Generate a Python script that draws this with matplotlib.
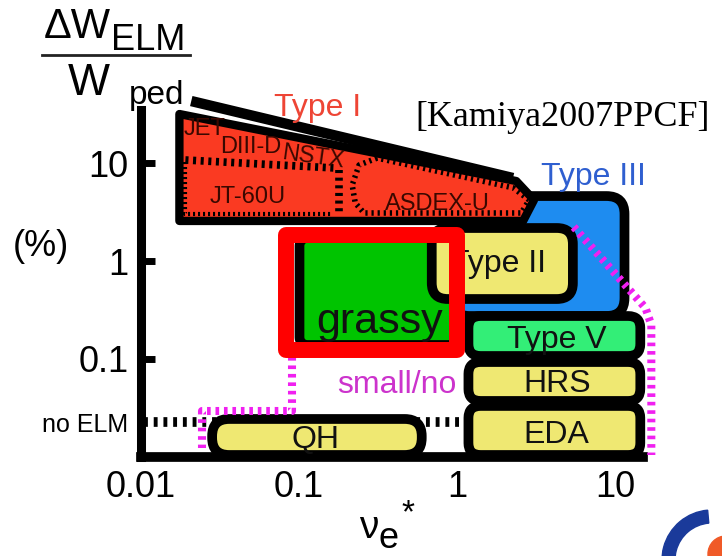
import matplotlib
matplotlib.use('Agg')
import matplotlib.pyplot as plt
from matplotlib.patches import FancyBboxPatch, Rectangle, Polygon, Wedge, Circle
import numpy as np

plt.rcParams['font.family'] = ['Liberation Sans', 'DejaVu Sans']

# ELM regimes in (nu_e*, dW_ELM/W_ped [%]) space
# Type I envelope and its upper edge
type1_nu = [0.0175, 2.37, 3.07, 2.62, 0.0175]
type1_dw = [31.9, 6.58, 4.21, 2.57, 2.57]
type1_top_nu = [0.0208, 2.26]
type1_top_dw = [43.3, 7.06]

# machine sub-regions inside Type I (dotted)
jet_nu = [0.0191, 0.170]
jet_dw = [10.8, 8.94]
nstx_nu = [0.180, 0.180]
nstx_dw = [8.53, 3.10]
jt60_nu = [0.0191, 0.0191, 0.1625]
jt60_dw = [10.2, 3.03, 3.03]
asdex_nu = [0.312, 0.240, 0.217, 0.227, 0.258, 2.55, 2.86, 2.27, 0.312]
asdex_dw = [11.3, 9.6, 5.99, 3.92, 3.10, 3.10, 4.21, 5.6, 11.3]

machines = ['JET', 'DIII-D', 'NSTX', 'JT-60U', 'ASDEX-U']
machine_nu = [0.0251, 0.0492, 0.1233, 0.0474, 0.753]
machine_dw = [19.45, 12.73, 8.94, 3.92, 3.32]

# rectangular regimes
box_names = ['Type III', 'Type II', 'grassy', 'Type V', 'HRS', 'EDA', 'QH']
box_nu_lo = [0.923, 0.692, 0.1007, 1.181, 1.181, 1.181, 0.0282]
box_nu_hi = [11.48, 5.41, 0.993, 14.45, 14.45, 14.45, 0.598]
box_dw_lo = [0.2737, 0.4086, 0.1383, 0.1067, 0.037, 0.01036, 0.01036]
box_dw_hi = [4.62, 2.176, 1.72, 0.2737, 0.0926, 0.0329, 0.0242]

# highlighted grassy window
frame_nu = [0.0828, 1.0]
frame_dw = [0.1229, 1.824]

# "no ELM" level and small/no ELM boundaries
no_elm_dw = 0.0225
no_elm_nu = [0.0105, 1.115]
small_left_nu = [0.0897, 0.0897, 0.0244, 0.0244]
small_left_dw = [0.1042, 0.0292, 0.0292, 0.0122]
small_right_nu = [5.48, 15.6, 16.97, 16.97]
small_right_dw = [2.23, 0.330, 0.2215, 0.01036]

labels = ['Type I', 'Type III', 'Type II', 'grassy', 'Type V', 'HRS', 'EDA', 'QH', 'small/no']
label_nu = [0.1307, 7.32, 1.824, 0.3255, 4.26, 4.31, 4.26, 0.128, 0.417]
label_dw = [30.4, 5.99, 0.772, 0.1834, 0.1288, 0.0457, 0.01374, 0.01222, 0.0447]

x_ticks = [0.01, 0.1, 1, 10]
x_ticklabels = ['0.01', '0.1', '1', '10']
y_ticks = [no_elm_dw, 0.1, 1, 10]
y_ticklabels = ['no ELM', '0.1', '1', '10']

L = np.log10
W, H = 722, 556
PX_X, PX_Y = 158.0, 97.75      # pixels per decade
ASPECT = PX_X / PX_Y

fig = plt.figure(figsize=(W / 100, H / 100), dpi=100)
ax = fig.add_axes([141 / W, 1 - 456.5 / H, 502 / W, 346.5 / H])
ax.set_xlim(-2, 1.177)
ax.set_ylim(-2, 1.545)

for s in ['top', 'right']:
    ax.spines[s].set_visible(False)
ax.spines['left'].set_linewidth(6.5)
ax.spines['bottom'].set_linewidth(7)
for s in ['left', 'bottom']:
    ax.spines[s].set_capstyle('projecting')
    ax.spines[s].set_zorder(1)

ax.set_xticks(L(x_ticks))
ax.set_xticklabels(x_ticklabels)
ax.set_yticks(L(y_ticks))
ax.set_yticklabels(y_ticklabels)
ax.tick_params(axis='x', length=0, pad=10, labelsize=26)
ax.tick_params(axis='y', direction='in', length=10, width=5, pad=9, labelsize=26)
ax.yaxis.get_major_ticks()[0].tick1line.set_visible(False)
ax.get_yticklabels()[0].set_fontsize(18)

def rbox(i, fc, r_px, z, lw=7):
    x0, x1 = L(box_nu_lo[i]), L(box_nu_hi[i])
    y0, y1 = L(box_dw_lo[i]), L(box_dw_hi[i])
    p = FancyBboxPatch((x0, y0), x1 - x0, y1 - y0,
                       boxstyle='round,pad=0,rounding_size=%f' % (r_px / PX_X),
                       mutation_aspect=ASPECT, fc=fc, ec='black', lw=lw,
                       joinstyle='round', clip_on=False, zorder=z)
    ax.add_patch(p)

# Type III sits underneath everything else
rbox(0, '#1E8CF0', 18, 2)

# Type I envelope
ax.add_patch(Polygon(np.column_stack([L(type1_nu), L(type1_dw)]), closed=True,
                     fc='#FA3A22', ec='black', lw=6, joinstyle='round',
                     clip_on=False, zorder=3))
ax.plot(L(type1_top_nu), L(type1_top_dw), color='black', lw=7.5,
        solid_capstyle='butt', clip_on=False, zorder=3.1)

dot = dict(color='black', clip_on=False, zorder=3.2, solid_capstyle='butt')
ax.plot(L(jet_nu), L(jet_dw), lw=5.5, dashes=(0.4, 0.6), **dot)
ax.plot(L(nstx_nu), L(nstx_dw), lw=5.5, dashes=(0.4, 0.6), **dot)
ax.plot(L(jt60_nu), L(jt60_dw), lw=3, dashes=(0.5, 0.7), **dot)
ax.plot(L(asdex_nu), L(asdex_dw), lw=4, dashes=(0.4, 0.7), **dot)

for name, nu, dw in zip(machines, machine_nu, machine_dw):
    ax.text(L(nu), L(dw), name, fontsize=17, color='#3A0800', ha='center',
            va='baseline', rotation=-8 if name == 'NSTX' else 0, zorder=3.3)

# grassy, Type II and the right-hand stack
rbox(2, '#00C400', 8, 4)
rbox(1, '#EFE872', 16, 5)
ax.plot(L(no_elm_nu), [L(no_elm_dw)] * 2, color='black', lw=7,
        dashes=(0.4, 0.6), clip_on=False, zorder=5.5)
rbox(3, '#33EE77', 12, 6)
rbox(4, '#EFE872', 12, 6)
rbox(5, '#EFE872', 12, 6)
rbox(6, '#EFE872', 17, 6)

mag = dict(color='#F020F0', lw=5.8, dashes=(0.45, 0.6), clip_on=False, zorder=7)
ax.plot(L(small_left_nu), L(small_left_dw), **mag)
ax.plot(L(small_right_nu), L(small_right_dw), **mag)

label_color = {'Type I': '#EE4535', 'Type III': '#2F5FD0', 'small/no': '#CC33CC'}
for name, nu, dw in zip(labels, label_nu, label_dw):
    ax.text(L(nu), L(dw), name, fontsize=31 if name == 'grassy' else 23,
            color=label_color.get(name, '#111111'), ha='center', va='baseline',
            zorder=8)

# red highlight around the grassy window
fx0, fx1 = L(frame_nu)
fy0, fy1 = L(frame_dw)
ax.add_patch(Rectangle((fx0, fy0), fx1 - fx0, fy1 - fy0, fill=False,
                       ec='#FF0000', lw=11.5, joinstyle='round',
                       clip_on=False, zorder=10))

# axis titles
def fxy(px, py):
    return px / W, 1 - py / H

fig.text(*fxy(41, 246), '(%)', fontsize=26, ha='center', va='center')
fig.text(*fxy(44, 38), '\u0394W', fontsize=30, ha='left', va='baseline')
fig.text(*fxy(111, 50), 'ELM', fontsize=26, ha='left', va='baseline')
fig.add_artist(plt.Line2D([42 / W, 190 / W], [1 - 55 / H] * 2, color='#222222', lw=2))
fig.text(*fxy(68, 95), 'W', fontsize=32, ha='left', va='baseline')
fig.text(*fxy(129, 104), 'ped', fontsize=24, ha='left', va='baseline')

fig.text(*fxy(359, 538), '\u03bd', fontsize=28, ha='left', va='baseline')
fig.text(*fxy(379, 548), 'e', fontsize=26, ha='left', va='baseline')
fig.text(*fxy(401, 522), '*', fontsize=24, ha='left', va='baseline')

fig.text(*fxy(563, 126), '[Kamiya2007PPCF]', fontsize=26, ha='center',
         va='baseline', family='Liberation Serif')

# corner logo
lax = fig.add_axes([650 / W, 0, 72 / W, 60 / H])
lax.set_xlim(0, 72)
lax.set_ylim(0, 60)
lax.axis('off')
lax.add_patch(Wedge((62, -4), 50, 95, 235, width=13, color='#1A3A9A'))
lax.add_patch(Circle((76, 2), 18, color='#F05A28'))

fig.savefig('out.png', dpi=100)
